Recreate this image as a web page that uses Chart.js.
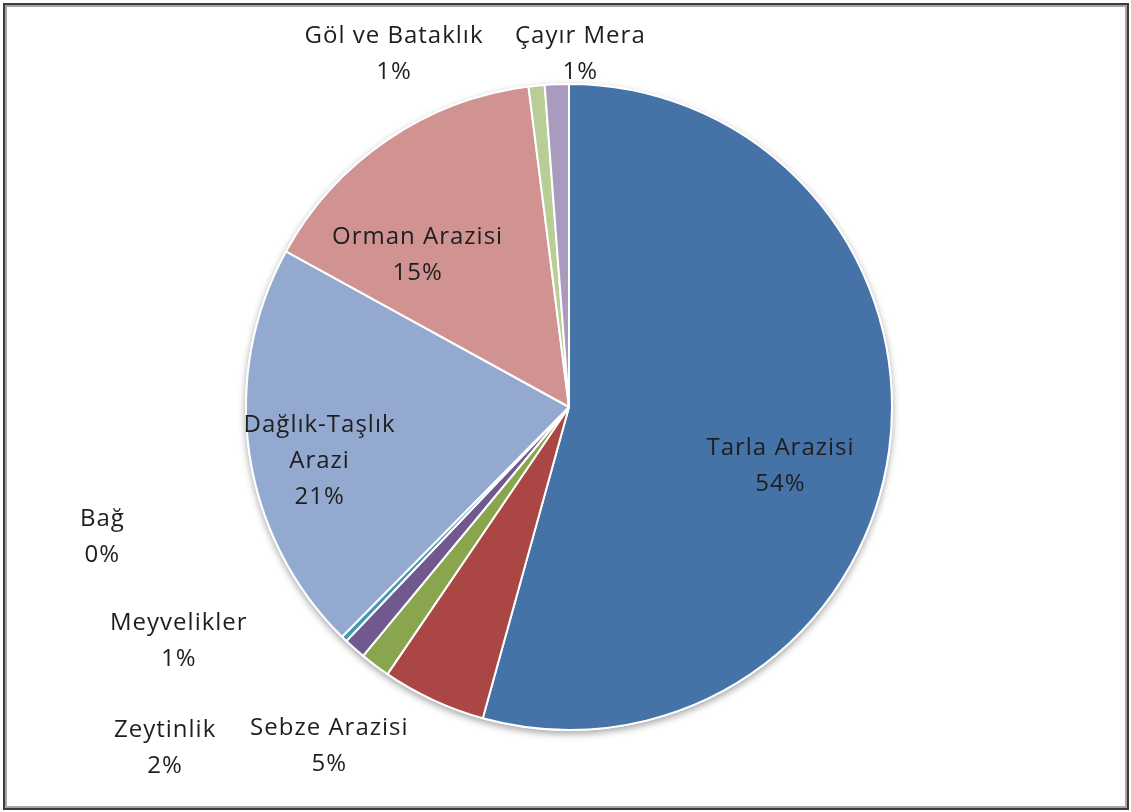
<!DOCTYPE html>
<html lang="tr">

<head>
    <meta charset="utf-8">
    <style>
        body { margin: 0; background: #fff; }
        #wrap { position: relative; width: 1131px; height: 812px; }
        #frame {
            position: absolute; left: 3px; top: 3px; width: 1122px; height: 803px;
            border: 2px solid #3c3c3c;
            box-shadow: inset 0 0 0 2px #a6a6a6;
        }
        canvas { position: absolute; left: 0; top: 0; }
    </style>
</head>

<body>
    <div id="wrap">
        <div id="frame"></div>
        <canvas id="landChart" width="1131" height="812"></canvas>
    </div>
    <script src="https://cdn.jsdelivr.net/npm/chart.js"></script>
    <script>
        // arazi dagilimi (yuzde)
        const categories = ['Tarla Arazisi', 'Sebze Arazisi', 'Zeytinlik', 'Meyvelikler', 'Bağ',
            'Dağlık-Taşlık Arazi', 'Orman Arazisi', 'Göl ve Bataklık', 'Çayır Mera'];
        const shares = [54.3, 5.2, 1.5, 1.1, 0.3, 20.6, 15.0, 0.8, 1.2];

        const colors = ['#4572A7', '#AA4643', '#89A54E', '#71588F', '#4198AF',
            '#93A9CF', '#D19392', '#B9CD96', '#A99BBD'];
        // label placement: [radius factor, angle offset from slice middle (deg)]
        const labelPlace = [[0.68, 7.9], [1.286, 10.4], [1.637, 12.9], [1.408, 17.5], [1.50, 30.3],
            [0.79, -3.9], [0.663, -10.8], [1.22, -20.6], [1.093, 4.0]];

        const FONT = '24px "Open Sans", "Noto Sans", sans-serif';
        const LINE_H = 36;

        const pieShadow = {
            id: 'pieShadow',
            beforeDatasetsDraw(chart) {
                const a = chart.getDatasetMeta(0).data[0];
                if (!a) return;
                const ctx = chart.ctx;
                ctx.save();
                ctx.beginPath();
                ctx.arc(a.x, a.y, a.outerRadius + 1, 0, Math.PI * 2);
                ctx.fillStyle = '#fff';
                ctx.shadowColor = 'rgba(0,0,0,0.35)';
                ctx.shadowBlur = 7;
                ctx.shadowOffsetY = 3;
                ctx.fill();
                ctx.restore();
            }
        };

        function wrapName(ctx, name) {
            if (ctx.measureText(name).width < 200) return [name];
            const i = name.lastIndexOf(' ');
            return [name.slice(0, i), name.slice(i + 1)];
        }

        const sliceLabels = {
            id: 'sliceLabels',
            afterDatasetsDraw(chart) {
                const ctx = chart.ctx;
                const total = shares.reduce((s, v) => s + v, 0);
                ctx.save();
                ctx.font = FONT;
                ctx.letterSpacing = '1px';
                ctx.fillStyle = '#1e1e1e';
                ctx.textAlign = 'center';
                ctx.textBaseline = 'middle';
                chart.getDatasetMeta(0).data.forEach((arc, i) => {
                    const p = arc.getProps(['x', 'y', 'startAngle', 'endAngle', 'outerRadius']);
                    const ang = (p.startAngle + p.endAngle) / 2 + labelPlace[i][1] * Math.PI / 180;
                    const d = p.outerRadius * labelPlace[i][0];
                    const cx = p.x + Math.cos(ang) * d;
                    const cy = p.y + Math.sin(ang) * d;
                    const lines = wrapName(ctx, categories[i]);
                    lines.push(Math.round(shares[i] / total * 100) + '%');
                    const y0 = cy - (lines.length - 1) * LINE_H / 2;
                    lines.forEach((t, j) => ctx.fillText(t, cx, y0 + j * LINE_H));
                });
                ctx.restore();
            }
        };

        new Chart(document.getElementById('landChart'), {
            type: 'pie',
            data: {
                labels: categories,
                datasets: [{
                    data: shares,
                    backgroundColor: colors,
                    borderColor: '#fff',
                    borderWidth: 2
                }]
            },
            options: {
                responsive: false,
                animation: false,
                layout: { padding: { left: 245, right: 238, top: 83, bottom: 81 } },
                plugins: {
                    legend: { display: false },
                    tooltip: { enabled: false }
                }
            },
            plugins: [pieShadow, sliceLabels]
        });
    </script>
</body>

</html>
